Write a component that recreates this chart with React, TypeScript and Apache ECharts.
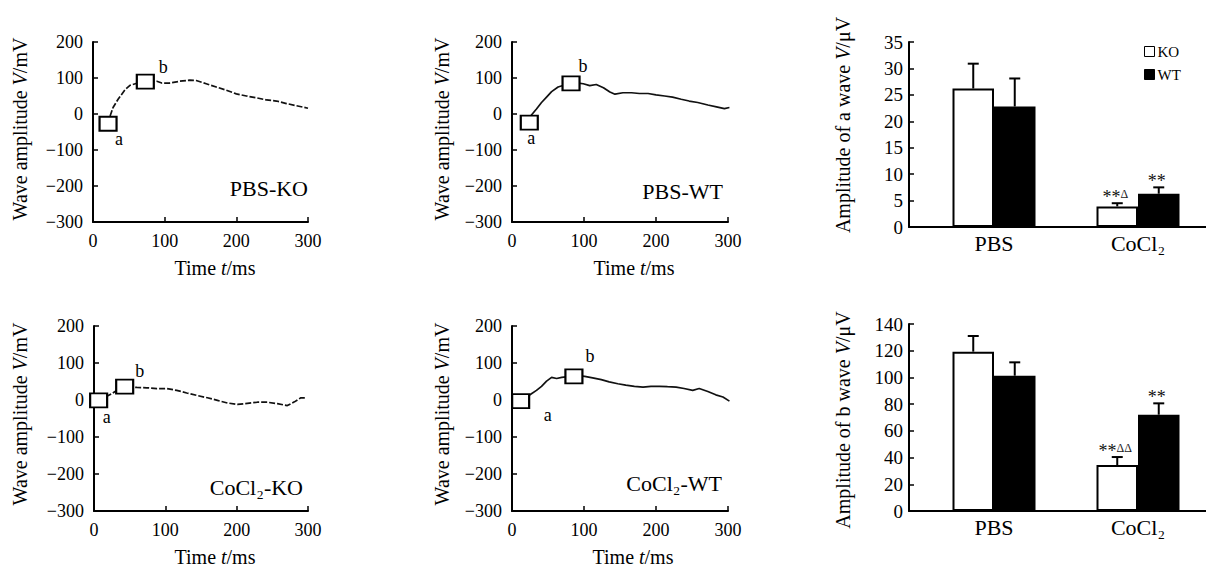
import React, { useEffect, useRef } from 'react';
import * as echarts from 'echarts';

const FONT = '"Liberation Serif", "Times New Roman", serif';

// ---- Wave traces (time ms, amplitude mV) ----
const pbsKoT = [21, 24, 28, 35, 45, 52, 59, 66, 73, 80, 89, 96, 107, 121, 135, 144, 158, 172, 186, 200, 214, 228, 242, 256, 270, 284, 300];
const pbsKoV = [-27, -5, 18, 41, 68, 80, 84, 88, 90, 90, 91, 86, 86, 91, 94, 93, 84, 75, 66, 56, 50, 45, 39, 36, 29, 23, 16];
const pbsWtT = [24, 27, 34, 41, 48, 55, 64, 72, 82, 92, 99, 108, 117, 127, 136, 143, 154, 166, 177, 189, 200, 212, 223, 235, 246, 258, 272, 284, 295, 302];
const pbsWtV = [-24, -3, 14, 32, 47, 62, 75, 80, 85, 86, 84, 79, 82, 73, 61, 55, 59, 59, 57, 57, 53, 50, 47, 41, 36, 32, 25, 20, 15, 18];
const cocKoT = [6.5, 18, 25, 35, 43, 52, 60, 74, 88, 102, 116, 130, 145, 159, 173, 187, 201, 215, 229, 243, 257, 271, 281, 290, 297];
const cocKoV = [-1, 10, 17, 30, 36, 35, 34, 33, 31, 31, 26, 19, 12, 6, -1, -8, -12, -9, -6, -6, -10, -15, -5, 6, 6];
const cocWtT = [12, 27, 34, 41, 48, 55, 62, 69, 78, 86, 94, 101, 112, 124, 135, 147, 158, 170, 182, 193, 205, 216, 228, 239, 251, 260, 272, 283, 293, 302];
const cocWtV = [-3, 17, 26, 37, 51, 61, 58, 61, 63, 64, 65, 64, 60, 55, 49, 44, 40, 37, 35, 37, 37, 36, 35, 31, 26, 31, 23, 14, 8, -3];

// a / b wave points per panel [t, v]
const aPoints = [[21, -27], [24, -24], [6.5, -1], [12, -3]];
const bPoints = [[73, 90], [82, 85], [43, 36], [86, 64]];
const panelTitles = ['PBS-KO', 'PBS-WT', 'CoCl₂-KO', 'CoCl₂-WT'];

const xTicks = [0, 100, 200, 300];
const yTicks = [-300, -200, -100, 0, 100, 200];

// ---- Bar charts ----
const groups = ['PBS', 'CoCl₂'];
const aWaveKO = [26.2, 3.9];
const aWaveWT = [22.8, 6.3];
const aErrKO = [4.7, 0.6];
const aErrWT = [5.3, 1.2];
const aSigKO = ['', '**{d|Δ}'];
const aSigWT = ['', '**'];
const bWaveKO = [119.3, 34.4];
const bWaveWT = [101.3, 72.1];
const bErrKO = [11.7, 6];
const bErrWT = [10, 8.5];
const bSigKO = ['', '**{d|ΔΔ}'];
const bSigWT = ['', '**'];

const traces = [
  { t: pbsKoT, v: pbsKoV, dashed: true },
  { t: pbsWtT, v: pbsWtV, dashed: false },
  { t: cocKoT, v: cocKoV, dashed: true },
  { t: cocWtT, v: cocWtV, dashed: false },
];

// layout
const lineGrids = [
  { left: 93, top: 42, width: 215, height: 180 },
  { left: 512, top: 42, width: 216, height: 180 },
  { left: 94, top: 326, width: 214, height: 185 },
  { left: 512, top: 326, width: 216, height: 185 },
];
const barGrids = [
  { left: 909, top: 42, width: 297, height: 185 },
  { left: 909, top: 324, width: 297, height: 187 },
];
const aLabelOffsets = [[11, 15], [2, 15], [8, 17], [27, 14]];
const bLabelOffsets = [[18, -15], [12, -17], [15, -16], [16, -20]];
const panelTitlePos = [[308, 188], [723, 191], [303, 487], [722, 483]];
const BAR_W = 41.5;

function minus(v: number) {
  return v < 0 ? '\u2212' + Math.abs(v) : String(v);
}

export default function App() {
  const ref = useRef<HTMLDivElement>(null);
  useEffect(() => {
    if (!ref.current) return;
    const chart = echarts.init(ref.current, undefined, { renderer: 'svg' });

    const grid: any[] = [...lineGrids, ...barGrids];
    const xAxis: any[] = [];
    const yAxis: any[] = [];
    const series: any[] = [];

    lineGrids.forEach((_, i) => {
      xAxis.push({
        gridIndex: i, type: 'value', min: xTicks[0], max: xTicks[xTicks.length - 1], interval: 100,
        axisLine: { show: true, onZero: false, lineStyle: { color: '#000', width: 2 } },
        axisTick: { show: true, inside: true, length: 5, lineStyle: { color: '#000', width: 1.5 } },
        axisLabel: { fontFamily: FONT, fontSize: 18, color: '#000', margin: 10 },
        splitLine: { show: false },
      });
      yAxis.push({
        gridIndex: i, type: 'value', min: yTicks[0], max: yTicks[yTicks.length - 1], interval: 100,
        axisLine: { show: true, onZero: false, lineStyle: { color: '#000', width: 2 } },
        axisTick: { show: true, inside: true, length: 5, lineStyle: { color: '#000', width: 1.5 } },
        axisLabel: { fontFamily: FONT, fontSize: 18, color: '#000', margin: 10, formatter: minus },
        splitLine: { show: false },
      });
      const tr = traces[i];
      series.push({
        type: 'line', xAxisIndex: i, yAxisIndex: i, showSymbol: false, symbol: 'none',
        data: tr.t.map((t, k) => [t, tr.v[k]]),
        lineStyle: { color: '#111', width: 1.7, type: tr.dashed ? [6, 2] : 'solid' },
        z: 2,
      });
      series.push({
        type: 'scatter', xAxisIndex: i, yAxisIndex: i, symbol: 'rect', symbolSize: [17, 14],
        itemStyle: { color: '#fff', borderColor: '#000', borderWidth: 2, opacity: 1 },
        label: { show: true, position: 'inside', fontFamily: FONT, fontSize: 18, color: '#000', formatter: (p: any) => p.name },
        data: [
          { name: 'a', value: aPoints[i], label: { offset: aLabelOffsets[i] } },
          { name: 'b', value: bPoints[i], label: { offset: bLabelOffsets[i] } },
        ],
        z: 5,
      });
    });

    const barSets = [
      { ko: aWaveKO, wt: aWaveWT, eko: aErrKO, ewt: aErrWT, sko: aSigKO, swt: aSigWT, max: 35, interval: 5 },
      { ko: bWaveKO, wt: bWaveWT, eko: bErrKO, ewt: bErrWT, sko: bSigKO, swt: bSigWT, max: 140, interval: 20 },
    ];
    const unit = 144;
    const xmin = -85 / unit;

    barSets.forEach((bs, j) => {
      const gi = 4 + j;
      const g = barGrids[j];
      xAxis.push({
        gridIndex: gi, type: 'value', min: xmin, max: xmin + g.width / unit,
        axisLine: { show: true, onZero: false, lineStyle: { color: '#000', width: 2 } },
        axisTick: { show: false },
        axisLabel: {
          customValues: [0, 1], fontFamily: FONT, fontSize: 22, color: '#000', margin: 5,
          formatter: (v: number) => groups[Math.round(v)] ?? '',
        },
        splitLine: { show: false },
      });
      yAxis.push({
        gridIndex: gi, type: 'value', min: 0, max: bs.max, interval: bs.interval,
        axisLine: { show: true, onZero: false, lineStyle: { color: '#000', width: 2 } },
        axisTick: { show: true, inside: true, length: 5, lineStyle: { color: '#000', width: 1.5 } },
        axisLabel: { fontFamily: FONT, fontSize: 19, color: '#000', margin: 6 },
        splitLine: { show: false },
      });
      series.push({
        name: 'KO', type: 'bar', xAxisIndex: gi, yAxisIndex: gi, barWidth: BAR_W, barGap: '0%',
        itemStyle: { color: '#fff', borderColor: '#000', borderWidth: 2 },
        data: bs.ko.map((v, k) => [k, v]), z: 2,
      });
      series.push({
        name: 'WT', type: 'bar', xAxisIndex: gi, yAxisIndex: gi, barWidth: BAR_W, barGap: '0%',
        itemStyle: { color: '#000', borderColor: '#000', borderWidth: 2 },
        data: bs.wt.map((v, k) => [k, v]), z: 2,
      });
      const mkErr = (vals: number[], errs: number[], sigs: string[], shift: number) => ({
        type: 'custom', xAxisIndex: gi, yAxisIndex: gi, z: 4,
        data: vals.map((v, k) => [k, v, v + errs[k], k]),
        renderItem: (params: any, api: any) => {
          const base = api.coord([api.value(0), api.value(1)]);
          const top = api.coord([api.value(0), api.value(2)]);
          const x = base[0] + shift;
          const sig = sigs[api.value(3)];
          const children: any[] = [
            { type: 'line', shape: { x1: x, y1: base[1], x2: x, y2: top[1] }, style: { stroke: '#000', lineWidth: 2 } },
            { type: 'line', shape: { x1: x - 5.5, y1: top[1], x2: x + 5.5, y2: top[1] }, style: { stroke: '#000', lineWidth: 2 } },
          ];
          if (sig) {
            children.push({
              type: 'text', x: x - 2, y: top[1] + 3,
              style: {
                text: sig, fontFamily: FONT, fontSize: 18, fill: '#111', align: 'center', verticalAlign: 'bottom',
                rich: { d: { fontFamily: FONT, fontSize: 12, fill: '#222', verticalAlign: 'top' } },
              },
            });
          }
          return { type: 'group', children };
        },
      });
      series.push(mkErr(bs.ko, bs.eko, bs.sko, -BAR_W / 2));
      series.push(mkErr(bs.wt, bs.ewt, bs.swt, BAR_W / 2));
    });

    const vText = (x: number, y: number, text: string, rich: any) => ({
      type: 'text', x, y, rotation: Math.PI / 2,
      style: { text, fontFamily: FONT, fontSize: 20, fill: '#000', align: 'center', verticalAlign: 'middle', rich },
    });
    const italic = { i: { fontFamily: FONT, fontSize: 20, fontStyle: 'italic', fill: '#000' } };
    const hText = (x: number, y: number, text: string, rich: any, size = 20, align = 'center') => ({
      type: 'text', x, y,
      style: { text, fontFamily: FONT, fontSize: size, fill: '#000', align, verticalAlign: 'middle', rich },
    });

    const graphic: any[] = [
      vText(20, 129, 'Wave amplitude {i|V}/mV', italic),
      vText(442, 129, 'Wave amplitude {i|V}/mV', italic),
      vText(20, 414, 'Wave amplitude {i|V}/mV', italic),
      vText(442, 414, 'Wave amplitude {i|V}/mV', italic),
      hText(215, 268, 'Time {i|t}/ms', italic),
      hText(634, 268, 'Time {i|t}/ms', italic),
      hText(215, 557, 'Time {i|t}/ms', italic),
      hText(633, 557, 'Time {i|t}/ms', italic),
      vText(843, 125, 'Amplitude of a wave {i|V}/μV', italic),
      vText(843, 420, 'Amplitude of b wave {i|V}/μV', italic),
      ...panelTitles.map((t, i) => hText(panelTitlePos[i][0], panelTitlePos[i][1], t, {}, 22, 'right')),
    ];

    chart.setOption({
      animation: false,
      backgroundColor: '#fff',
      grid,
      xAxis,
      yAxis,
      series,
      graphic,
      legend: {
        data: ['KO', 'WT'], orient: 'vertical', left: 1139, top: 39,
        itemWidth: 10, itemHeight: 10, itemGap: 8, icon: 'rect',
        itemStyle: { borderWidth: 1, borderColor: '#000' },
        textStyle: { fontFamily: FONT, fontSize: 15, color: '#000', padding: [0, 0, 0, -2] },
      },
    });
    return () => chart.dispose();
  }, []);

  return (
    <div
      ref={ref}
      style={{ position: 'fixed', left: 0, top: 0, width: 1206, height: 570, background: '#fff' }}
    />
  );
}
